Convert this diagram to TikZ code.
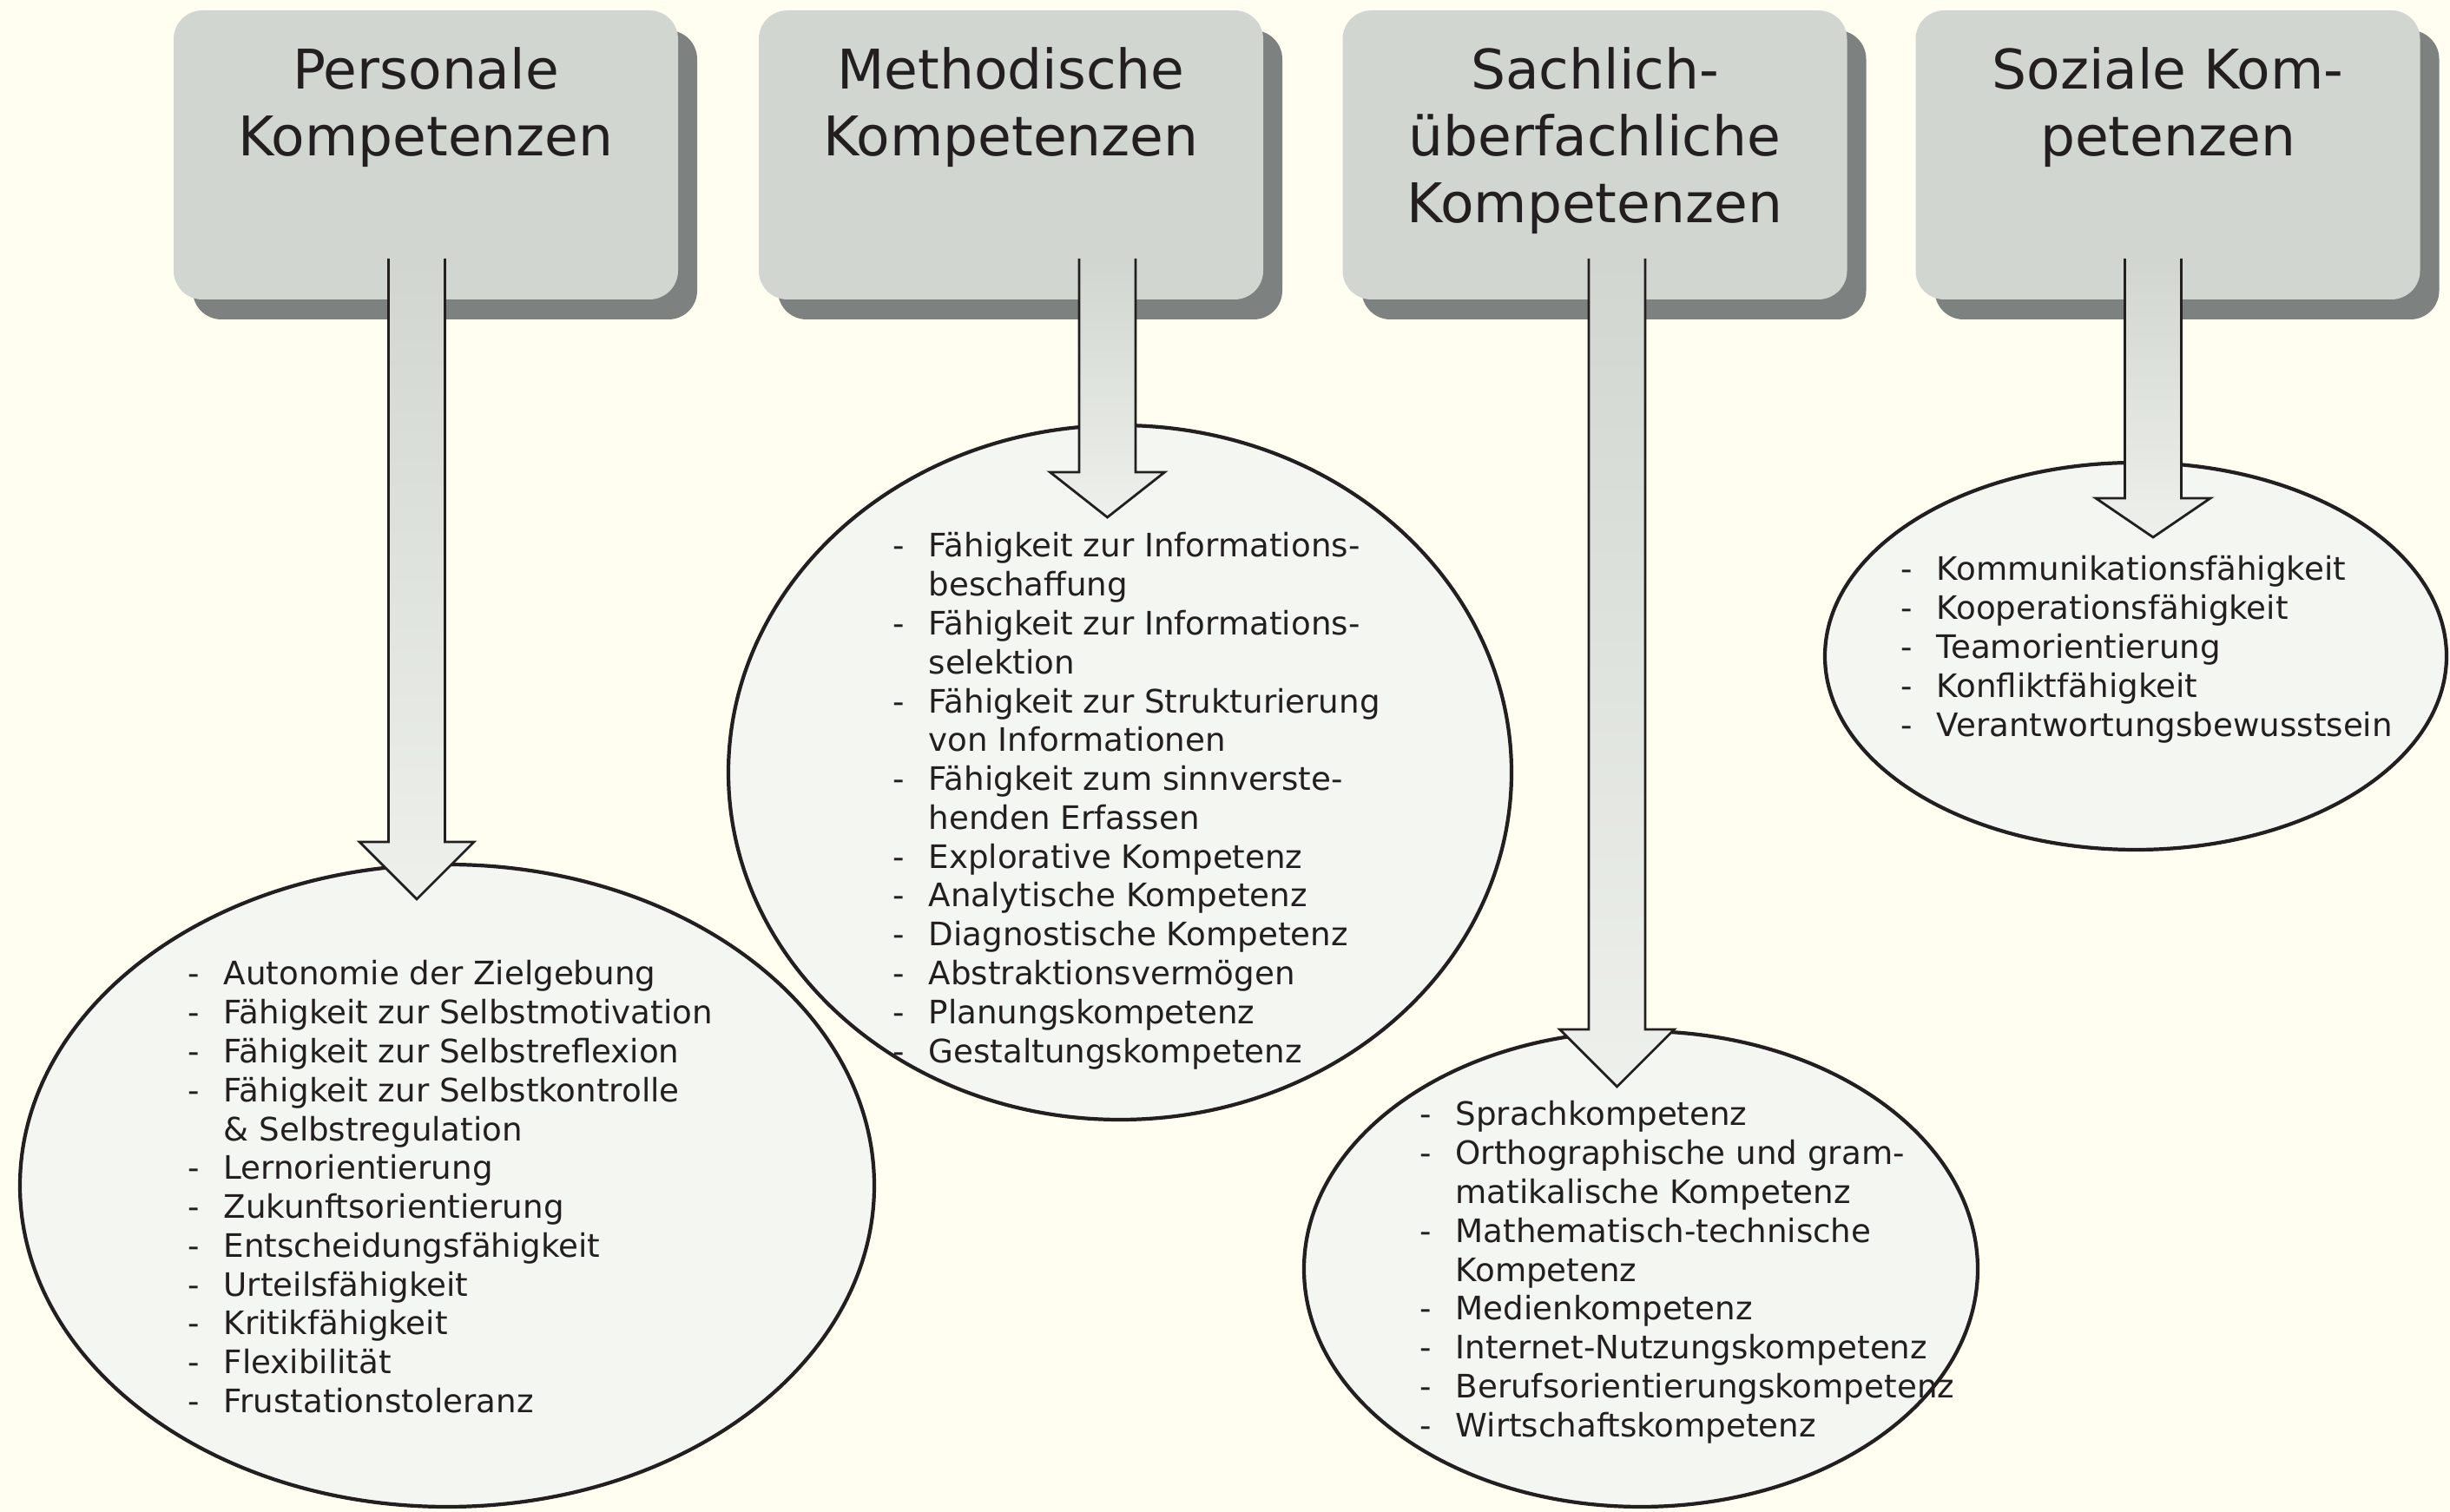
\documentclass[tikz,border=0pt]{standalone}
\usepackage{fontspec}
\setmainfont{DejaVu Sans}
\usepackage{xcolor}
\usetikzlibrary{positioning,shapes.geometric,shadows}

\definecolor{bgcream}{HTML}{FFFEF0}
\definecolor{boxgray}{HTML}{D1D6D0}
\definecolor{shadowgray}{HTML}{7D817F}
\definecolor{ellfill}{HTML}{F4F7F1}
\definecolor{arrtop}{HTML}{D1D6D0}
\definecolor{arrbot}{HTML}{EEF1EB}
\definecolor{txt}{HTML}{231F20}

\newcommand{\kdash}{\makebox[1.1em][l]{-}}
\newcommand{\kgap}{\hspace*{1.1em}}

\begin{document}
\begin{tikzpicture}[
        kbox/.style={fill=boxgray, rounded corners=0.33cm, minimum width=5.81cm, minimum height=3.33cm,
            drop shadow={shadow xshift=0.22cm, shadow yshift=-0.23cm, fill=shadowgray, opacity=1}},
        ktitle/.style={align=center, inner sep=0, text=txt, font=\fontsize{17.93}{21.9}\selectfont},
        kell/.style={ellipse, draw=txt, line width=1.2pt, fill=ellfill, inner sep=0},
        klist/.style={align=left, anchor=north west, inner sep=0, text=txt, font=\fontsize{10.59}{12.74}\selectfont},
        karrow/.style={top color=arrtop, bottom color=arrbot, draw=none},
        karrowline/.style={draw=txt, line width=0.8pt, line join=miter}]

        \fill[bgcream] (0,0) rectangle (28.22,-17.42);
        \useasboundingbox (0,0) rectangle (28.22,-17.42);

        \node[kbox] (B1) at (4.905,-1.785) {};
        \node[kbox] (B2) at (11.645,-1.785) {};
        \node[kbox] (B3) at (18.37,-1.785) {};
        \node[kbox] (B4) at (24.97,-1.785) {};

        \node[ktitle, below=0.43cm of B1.north] (T1) {Personale\\Kompetenzen};
        \node[ktitle, below=0.43cm of B2.north] (T2) {Methodische\\Kompetenzen};
        \node[ktitle, below=0.43cm of B3.north] (T3) {Sachlich-\\überfachliche\\Kompetenzen};
        \node[ktitle, below=0.43cm of B4.north] (T4) {Soziale Kom-\\petenzen};

        \node[kell, minimum width=9.84cm, minimum height=7.40cm] (E1) at (5.15,-13.66) {};
        \node[kell, minimum width=9.02cm, minimum height=8.00cm] (E2) at (12.90,-8.90) {};
        \node[kell, minimum width=7.76cm, minimum height=5.48cm] (E3) at (18.90,-14.62) {};
        \node[kell, minimum width=7.16cm, minimum height=4.46cm] (E4) at (24.60,-7.56) {};

        \coordinate (S1) at (4.80,-2.98);
        \coordinate (H1) at (4.80,-9.70);
        \coordinate (P1) at (4.80,-10.36);
        \coordinate (S2) at (12.755,-2.98);
        \coordinate (H2) at (12.755,-5.44);
        \coordinate (P2) at (12.755,-5.96);
        \coordinate (S3) at (18.625,-2.98);
        \coordinate (H3) at (18.625,-11.86);
        \coordinate (P3) at (18.625,-12.52);
        \coordinate (S4) at (24.80,-2.98);
        \coordinate (H4) at (24.80,-5.74);
        \coordinate (P4) at (24.80,-6.19);

        \foreach \i in {1,...,4}{
            \shade[karrow] ([xshift=-3.25mm]S\i) -- ([xshift=-3.25mm]H\i) -- ([xshift=-6.6mm]H\i) -- (P\i)
                -- ([xshift=6.6mm]H\i) -- ([xshift=3.25mm]H\i) -- ([xshift=3.25mm]S\i) -- cycle;
            \draw[karrowline] ([xshift=-3.25mm]S\i) -- ([xshift=-3.25mm]H\i) -- ([xshift=-6.6mm]H\i) -- (P\i)
                -- ([xshift=6.6mm]H\i) -- ([xshift=3.25mm]H\i) -- ([xshift=3.25mm]S\i);
        }

        \node[klist] (L1) at (2.16,-11.06) {\kdash Autonomie der Zielgebung\\
            \kdash Fähigkeit zur Selbstmotivation\\
            \kdash Fähigkeit zur Selbstreflexion\\
            \kdash Fähigkeit zur Selbstkontrolle\\
            \kgap \& Selbstregulation\\
            \kdash Lernorientierung\\
            \kdash Zukunftsorientierung\\
            \kdash Entscheidungsfähigkeit\\
            \kdash Urteilsfähigkeit\\
            \kdash Kritikfähigkeit\\
            \kdash Flexibilität\\
            \kdash Frustationstoleranz};

        \node[klist] (L2) at (10.28,-6.13) {\kdash Fähigkeit zur Informations-\\
            \kgap beschaffung\\
            \kdash Fähigkeit zur Informations-\\
            \kgap selektion\\
            \kdash Fähigkeit zur Strukturierung\\
            \kgap von Informationen\\
            \kdash Fähigkeit zum sinnverste-\\
            \kgap henden Erfassen\\
            \kdash Explorative Kompetenz\\
            \kdash Analytische Kompetenz\\
            \kdash Diagnostische Kompetenz\\
            \kdash Abstraktionsvermögen\\
            \kdash Planungskompetenz\\
            \kdash Gestaltungskompetenz};

        \node[klist] (L3) at (16.35,-12.68) {\kdash Sprachkompetenz\\
            \kdash Orthographische und gram-\\
            \kgap matikalische Kompetenz\\
            \kdash Mathematisch-technische\\
            \kgap Kompetenz\\
            \kdash Medienkompetenz\\
            \kdash Internet-Nutzungskompetenz\\
            \kdash Berufsorientierungskompetenz\\
            \kdash Wirtschaftskompetenz};

        \node[klist] (L4) at (21.89,-6.40) {\kdash Kommunikationsfähigkeit\\
            \kdash Kooperationsfähigkeit\\
            \kdash Teamorientierung\\
            \kdash Konfliktfähigkeit\\
            \kdash Verantwortungsbewusstsein};
    \end{tikzpicture}
\end{document}
